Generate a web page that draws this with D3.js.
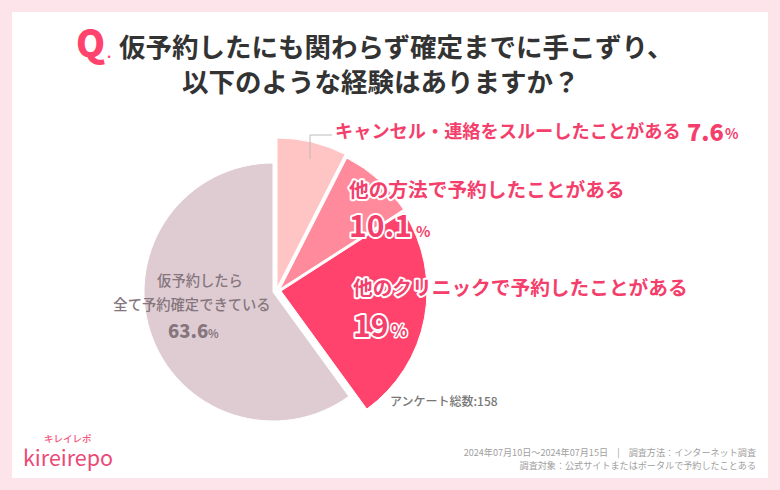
<!DOCTYPE html>
<html>
<head>
<meta charset="utf-8">
<script src="https://cdn.jsdelivr.net/npm/d3@7"></script>
<style>
  html, body { margin: 0; padding: 0; background: #fde3ea; }
  svg { display: block; }
  text { font-family: "Noto Sans CJK JP", "Noto Sans", sans-serif; }
  .halo { paint-order: stroke; stroke: #fff; stroke-linejoin: round; }
</style>
</head>
<body>
<svg id="chart" width="780" height="490"></svg>
<script>
// Data
var categories = ["キャンセル・連絡をスルーしたことがある", "他の方法で予約したことがある", "他のクリニックで予約したことがある", "仮予約したら全て予約確定できている"];
var labelValues = [7.6, 10.1, 19, 63.6];
// Share of the circle each slice takes in the picture (read from the angles, not the same as the labels)
var drawnShares = [7.5, 8.4, 24.1, 60];
var colors = ["#ffc4c4", "#ff8a9c", "#ff436c", "#dfccd3"];
var titleLines = ["仮予約したにも関わらず確定までに手こずり、", "以下のような経験はありますか？"];
var footLines = ["2024年07月10日～2024年07月15日　|　調査方法：インターネット調査", "調査対象：公式サイトまたはポータルで予約したことある"];

var svg = d3.select("#chart");

// White card
svg.append("rect").attr("x", 12).attr("y", 12).attr("width", 756).attr("height", 466).attr("fill", "#fff");

// Title
svg.append("text").attr("x", 76).attr("y", 57).attr("font-size", 37).attr("font-weight", 800)
  .attr("font-family", "Inter").attr("fill", "#ff436c").text("Q");
svg.append("text").attr("x", 107).attr("y", 58).attr("font-size", 13).attr("font-weight", 700)
  .attr("font-family", "Inter").attr("fill", "#ff436c").text(".");
svg.selectAll(".title").data(titleLines).join("text")
  .attr("class", "title")
  .attr("x", (d, i) => i == 0 ? 119 : 182)
  .attr("y", (d, i) => i == 0 ? 57 : 92)
  .attr("font-size", 26.5).attr("font-weight", 700).attr("fill", "#333").text(d => d);

// Pie slices, each one pulled out from the centre on its own
var pie = d3.pie().sort(null).value(d => d);
var arcs = pie(drawnShares);
var arc = d3.arc().innerRadius(0);
var centers = [[277, 288], [280, 289], [281, 291], [273, 292]];
var radii = [150, 147, 146, 129];

svg.selectAll(".slice").data(arcs).join("path")
  .attr("class", "slice")
  .attr("transform", (d, i) => `translate(${centers[i]})`)
  .attr("d", (d, i) => arc.outerRadius(radii[i])(d))
  .attr("fill", (d, i) => colors[i])
  .attr("stroke", "#fff").attr("stroke-width", 1);

// Leader line for the smallest slice
svg.append("path").attr("d", "M310,159V135H332").attr("fill", "none").attr("stroke", "#bbb").attr("stroke-width", 1);

// Slice labels
var pink = "#f43f6c";
function label(x, y, size, text, color, halo, weight) {
  var t = svg.append("text").attr("x", x).attr("y", y).attr("font-size", size)
    .attr("font-weight", weight || 700).attr("fill", color).text(text);
  if (halo) t.attr("class", "halo").attr("stroke-width", halo);
  return t;
}
label(335, 138, 18.2, categories[0], pink);
label(687, 141, 23.5, labelValues[0], pink, 0, 900).attr("font-family", "Lato");
label(725, 139, 14, "%", pink).attr("font-family", "Lato");

label(349, 197, 19.7, categories[1], pink, 4);
label(349, 237, 30, labelValues[1], pink, 4).attr("font-family", "Lato");
label(416, 237, 15, "%", pink, 3).attr("font-family", "Lato");

label(353, 295, 19.7, categories[2], pink, 4);
label(353, 337, 30, labelValues[2], pink, 4).attr("font-family", "Lato");
label(391, 337, 17, "%", pink, 3).attr("font-family", "Lato");

// Big slice label
var grey = "#85767d";
label(200, 286, 14.3, "仮予約したら", grey, 0, 500).attr("text-anchor", "middle");
label(192, 310, 14.3, "全て予約確定できている", grey, 0, 500).attr("text-anchor", "middle");
label(168, 338, 18.5, labelValues[3], grey, 0, 900).attr("font-family", "Lato");
label(208, 338, 11, "%", grey).attr("font-family", "Lato");

label(390, 406, 12, "アンケート総数:158", "#777", 0, 500);

// Footer
svg.selectAll(".foot").data(footLines).join("text")
  .attr("class", "foot")
  .attr("x", 756).attr("y", (d, i) => 456 + i * 13)
  .attr("text-anchor", "end").attr("font-size", 9.1).attr("fill", "#a0a0a0").text(d => d);

// Logo
label(44, 442, 9.5, "キレイレポ", "#f2557d", 0, 500);
label(23, 466, 21.5, "kireirepo", "#ea4a76", 0, 400).attr("font-family", "Lato");
</script>
</body>
</html>
